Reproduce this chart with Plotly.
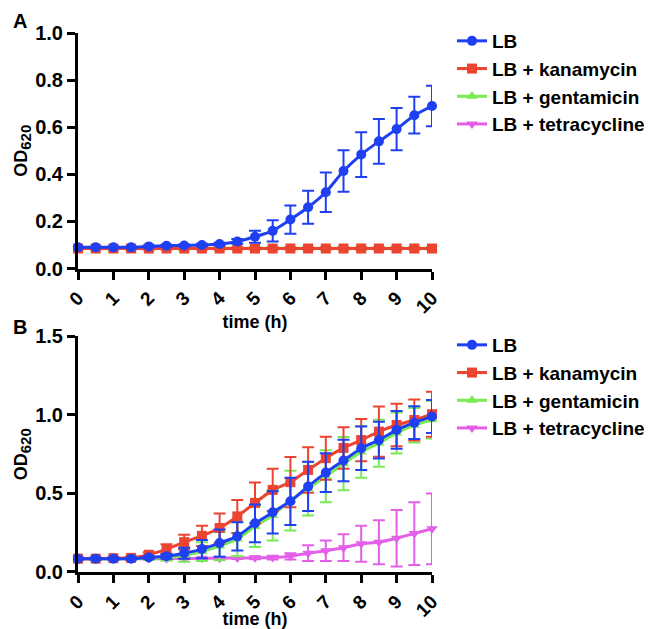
import plotly.graph_objects as go
from plotly.subplots import make_subplots

time_h = [0, 0.5, 1, 1.5, 2, 2.5, 3, 3.5, 4, 4.5, 5, 5.5, 6, 6.5, 7, 7.5, 8, 8.5, 9, 9.5, 10]
x_ticks = list(range(0, 11))

# Panel A
a_lb = [0.09, 0.09, 0.09, 0.09, 0.094, 0.097, 0.098, 0.10, 0.104, 0.115, 0.135, 0.16, 0.208, 0.26, 0.324, 0.414, 0.484, 0.54, 0.592, 0.651, 0.69]
a_lb_err = [0.003, 0.003, 0.003, 0.003, 0.004, 0.004, 0.004, 0.005, 0.006, 0.01, 0.025, 0.045, 0.06, 0.07, 0.084, 0.088, 0.095, 0.095, 0.09, 0.078, 0.086]
a_kan = [0.085] * 21
a_gen = [0.086] * 21
a_tet = [0.085] * 21
a_flat_err = [0.003] * 21

# Panel B
b_lb = [0.085, 0.085, 0.085, 0.085, 0.093, 0.10, 0.12, 0.146, 0.184, 0.227, 0.31, 0.38, 0.45, 0.545, 0.633, 0.71, 0.788, 0.84, 0.905, 0.951, 0.99]
b_lb_err = [0.005, 0.005, 0.005, 0.006, 0.008, 0.015, 0.035, 0.058, 0.087, 0.09, 0.12, 0.135, 0.15, 0.157, 0.124, 0.132, 0.138, 0.117, 0.12, 0.104, 0.105]
b_kan = [0.085, 0.085, 0.088, 0.09, 0.11, 0.146, 0.19, 0.23, 0.28, 0.354, 0.44, 0.523, 0.572, 0.65, 0.725, 0.79, 0.84, 0.894, 0.936, 0.968, 1.005]
b_kan_err = [0.005, 0.005, 0.006, 0.008, 0.015, 0.03, 0.047, 0.065, 0.093, 0.105, 0.13, 0.135, 0.16, 0.145, 0.137, 0.132, 0.134, 0.16, 0.135, 0.13, 0.143]
b_gen = [0.085, 0.085, 0.085, 0.085, 0.088, 0.092, 0.105, 0.13, 0.165, 0.21, 0.29, 0.36, 0.455, 0.53, 0.61, 0.69, 0.765, 0.82, 0.885, 0.935, 0.97]
b_gen_err = [0.005, 0.005, 0.005, 0.005, 0.01, 0.02, 0.04, 0.06, 0.09, 0.11, 0.13, 0.16, 0.19, 0.17, 0.165, 0.17, 0.165, 0.15, 0.13, 0.11, 0.12]
b_tet = [0.085, 0.085, 0.085, 0.085, 0.085, 0.085, 0.086, 0.087, 0.088, 0.089, 0.09, 0.092, 0.10, 0.12, 0.135, 0.155, 0.18, 0.19, 0.215, 0.245, 0.275]
b_tet_err = [0.003, 0.003, 0.003, 0.003, 0.003, 0.003, 0.004, 0.004, 0.005, 0.006, 0.008, 0.012, 0.02, 0.05, 0.065, 0.085, 0.115, 0.14, 0.18, 0.2, 0.225]

names = ["LB", "LB + kanamycin", "LB + gentamicin", "LB + tetracycline"]
colors = ["#1f3ff2", "#ec4430", "#78ea55", "#e35fe8"]
symbols = ["circle", "square", "triangle-up", "triangle-down"]

fig = make_subplots(rows=2, cols=1, vertical_spacing=0.126)

def add(row, y, err, idx, legend):
    fig.add_trace(go.Scatter(
        x=time_h, y=y, name=names[idx], mode="lines+markers",
        legendgroup=f"{legend}_{idx}", legendrank=idx + 1,
        line=dict(color=colors[idx], width=3, shape="spline", smoothing=0.4),
        marker=dict(color=colors[idx], symbol=symbols[idx], size=10),
        error_y=dict(type="data", array=err, visible=True, color=colors[idx], thickness=2, width=6),
        cliponaxis=False, legend=legend,
    ), row=row, col=1)

# draw order: tetracycline, gentamicin, kanamycin, LB (LB on top)
add(1, a_tet, a_flat_err, 3, "legend")
add(1, a_gen, a_flat_err, 2, "legend")
add(1, a_kan, a_flat_err, 1, "legend")
add(1, a_lb, a_lb_err, 0, "legend")
add(2, b_tet, b_tet_err, 3, "legend2")
add(2, b_gen, b_gen_err, 2, "legend2")
add(2, b_kan, b_kan_err, 1, "legend2")
add(2, b_lb, b_lb_err, 0, "legend2")

font_family = "Liberation Sans, Arial, sans-serif"
axis_common = dict(showline=True, linewidth=3, linecolor="black", ticks="outside",
                   ticklen=8, tickwidth=3, tickcolor="black", showgrid=False, zeroline=False,
                   automargin=False)
ytick_font = dict(family=font_family, size=20, color="black", weight="bold")
xtick_font = dict(family=font_family, size=19, color="black", weight="bold")
title_font = dict(family=font_family, size=18, color="black", weight="bold")
ytitle_text = "OD<sub><span style='font-size:15px'>620</span></sub>"
ytitle_font = dict(family=font_family, size=18, color="black", weight="bold")

for r in (1, 2):
    fig.update_xaxes(range=[0, 10], tickvals=x_ticks, tickangle=-45, tickfont=xtick_font,
                     title=dict(text="time (h)", font=title_font, standoff=0),
                     row=r, col=1, **axis_common)

fig.update_yaxes(range=[0, 1.0], dtick=0.2, tickformat=".1f", tickfont=ytick_font,
                 title=dict(text=ytitle_text, font=ytitle_font, standoff=3),
                 row=1, col=1, **axis_common)
fig.update_yaxes(range=[0, 1.5], dtick=0.5, tickformat=".1f", tickfont=ytick_font,
                 title=dict(text=ytitle_text, font=ytitle_font, standoff=3),
                 row=2, col=1, **axis_common)

# the page body adds an 8px offset, so the figure is sized to the visible area
W, H = 644, 621
ML, MT, MB = 70, 25, 57
plot_w = 354
plot_h = H - MT - MB
MR = W - ML - plot_w

legend_font = dict(family=font_family, size=19, color="black", weight="bold")
leg_left = 444
fig.update_layout(
    width=W, height=H,
    margin=dict(l=ML, r=MR, t=MT, b=MB, autoexpand=False),
    paper_bgcolor="white", plot_bgcolor="white",
    legend=dict(xref="container", yref="container", x=leg_left / W, y=1 - 14 / H,
                xanchor="left", yanchor="top", font=legend_font,
                traceorder="grouped", tracegroupgap=0, bgcolor="rgba(0,0,0,0)", itemwidth=30),
    legend2=dict(xref="container", yref="container", x=leg_left / W, y=1 - 318 / H,
                 xanchor="left", yanchor="top", font=legend_font,
                 traceorder="grouped", tracegroupgap=0, bgcolor="rgba(0,0,0,0)", itemwidth=30),
)

def px_to_paper(px, py):
    return (px - ML) / plot_w, (H - MB - py) / plot_h
ax, ay = px_to_paper(12, 13)
bx, by = px_to_paper(12, 319)
for txt, xx, yy in (("A", ax, ay), ("B", bx, by)):
    fig.add_annotation(text=txt, x=xx, y=yy, xref="paper", yref="paper", showarrow=False,
                       xanchor="center", yanchor="middle",
                       font=dict(family=font_family, size=20, color="black", weight="bold"))

fig.write_html("out.html")
